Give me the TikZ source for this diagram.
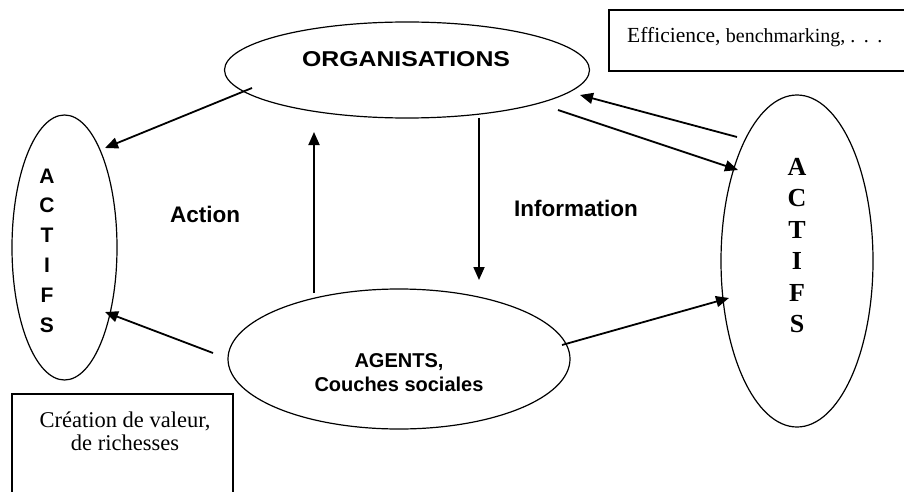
\documentclass[tikz,border=0pt]{standalone}
\usepackage{fontspec}
\setmainfont{Liberation Serif}
\newfontfamily\arialfont{Liberation Sans}
\usetikzlibrary{shapes.geometric,arrows.meta}

\begin{document}
\begin{tikzpicture}[x=1pt,y=-1pt,
  blob/.style={draw,ellipse,line width=1.2pt,inner sep=0pt},
  frame/.style={draw,line width=1.5pt},
  link/.style={line width=1.8pt,-{Triangle[length=13pt,width=11pt]}},
  sanslabel/.style={font=\arialfont\bfseries\fontsize{22.5}{26}\selectfont,inner sep=0pt},
  stackA/.style={font=\arialfont\bfseries\fontsize{21}{29.8}\selectfont,inner sep=0pt,align=center},
  stackB/.style={font=\bfseries\fontsize{26}{31.4}\selectfont,inner sep=0pt,align=center},
  note/.style={inner sep=0pt},
]
\useasboundingbox (0,0) rectangle (904,492);

% ellipses
\node[blob,minimum width=365pt,minimum height=96pt]  (org)    at (407,70)    {};
\node[blob,minimum width=105pt,minimum height=265pt] (actL)   at (64.5,247.5) {};
\node[blob,minimum width=152pt,minimum height=332pt] (actR)   at (797,261)   {};
\node[blob,minimum width=342pt,minimum height=140pt] (agents) at (399,359)   {};

% ellipse texts
\node[note] (orgtxt) at (406,59)
  {\resizebox{208pt}{15pt}{\arialfont\bfseries ORGANISATIONS}};
\node[stackA] (actLtxt) at (47,250.5) {A\\C\\T\\I\\F\\S};
\node[stackB] (actRtxt) at (797,245.5) {A\\C\\T\\I\\F\\S};
\node[note,align=center,font=\arialfont\bfseries\fontsize{20}{24}\selectfont]
  (agtxt) at (399,373) {AGENTS,\\Couches sociales};

% free labels
\node[sanslabel] (action) at (205,214) {Action};
\node[sanslabel] (info)   at (576,208.5) {Information};

% boxes
\draw[frame] (609,10) rectangle (920,71);
\node[note,anchor=base west] (eff) at (627,43)
  {\fontsize{21.5}{24}\selectfont Efficience, {\fontsize{20}{22}\selectfont benchmarking, .\kern8.5pt.\kern8.5pt.}};
\draw[frame] (12,394) rectangle (233,520);
\node[note,align=center,font=\fontsize{22.5}{23}\selectfont] (cre) at (125,431.5)
  {Création de valeur,\\de richesses};

% connector end points
\coordinate (p1s) at (252,88);   \coordinate (p1e) at (105,148);
\coordinate (p2s) at (213,353);  \coordinate (p2e) at (105,312);
\coordinate (p3s) at (314,293);  \coordinate (p3e) at (314,132);
\coordinate (p4s) at (479,118);  \coordinate (p4e) at (479,280);
\coordinate (p5s) at (737,137);  \coordinate (p5e) at (580,95);
\coordinate (p6s) at (558,110);  \coordinate (p6e) at (738,170);
\coordinate (p7s) at (562,345);  \coordinate (p7e) at (729,298);

% connectors
\draw[link] (p1s) -- (p1e);
\draw[link] (p2s) -- (p2e);
\draw[link] (p3s) -- (p3e);
\draw[link] (p4s) -- (p4e);
\draw[link] (p5s) -- (p5e);
\draw[link] (p6s) -- (p6e);
\draw[link] (p7s) -- (p7e);
\end{tikzpicture}
\end{document}
